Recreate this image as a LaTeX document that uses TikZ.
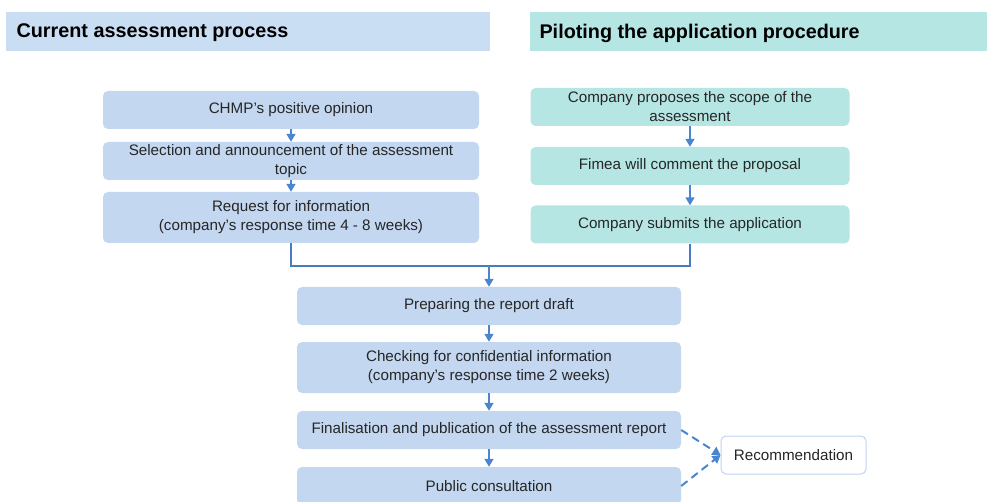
\documentclass[tikz,border=0pt]{standalone}
\usepackage{fontspec}
\setmainfont{Liberation Sans}
\usetikzlibrary{arrows.meta,positioning}
\definecolor{headblue}{RGB}{201,222,242}
\definecolor{headteal}{RGB}{182,230,227}
\definecolor{boxblue}{RGB}{195,215,240}
\definecolor{boxteal}{RGB}{182,230,227}
\definecolor{arrblue}{RGB}{74,134,208}
\definecolor{lineblue}{RGB}{72,124,190}
\definecolor{recborder}{RGB}{190,212,240}
\tikzset{
  procbox/.style={rounded corners=5pt,fill=boxblue,align=center,inner sep=0pt,
    font=\fontsize{15.2}{19}\selectfont,text=black!85},
  tealbox/.style={procbox,fill=boxteal},
  flow/.style={arrblue,line width=1.5pt,-{Triangle[width=9pt,length=8pt]}},
  recflow/.style={flow,line width=2pt,dash pattern=on 8pt off 5pt},
}
\begin{document}
\begin{tikzpicture}[x=1pt,y=-1pt]
\useasboundingbox (0,0) rectangle (987,502);
\clip (0,0) rectangle (987,502);
\fill[headblue] (6,12) rectangle (490,51);
\fill[headteal] (530,12) rectangle (987,51);
\node[anchor=west,font=\fontsize{19.8}{23}\bfseries\selectfont] (curhead) at (13,33) {Current assessment process};
\node[anchor=west,font=\fontsize{19.8}{23}\bfseries\selectfont] (pilothead) at (536,33) {Piloting the application procedure};
\node[procbox,minimum width=376pt,minimum height=38pt] (chmp) at (291,110) {CHMP’s positive opinion};
\node[procbox,minimum width=376pt,minimum height=38pt] (select) at (291,161) {Selection and announcement of the assessment\\topic};
\node[procbox,minimum width=376pt,minimum height=51pt] (request) at (291,217.5) {Request for information\\(company’s response time 4 - 8 weeks)};
\node[tealbox,minimum width=319pt,minimum height=38pt] (propose) at (690,107) {Company proposes the scope of the\\assessment};
\node[tealbox,minimum width=319pt,minimum height=38pt] (comment) at (690,166) {Fimea will comment the proposal};
\node[tealbox,minimum width=319pt,minimum height=38pt] (submit) at (690,224.5) {Company submits the application};
\node[procbox,minimum width=384pt,minimum height=38pt] (draft) at (489,306) {Preparing the report draft};
\node[procbox,minimum width=384pt,minimum height=51pt] (confid) at (489,367.5) {Checking for confidential information\\(company’s response time 2 weeks)};
\node[procbox,minimum width=384pt,minimum height=38pt] (final) at (489,430) {Finalisation and publication of the assessment report};
\node[procbox,minimum width=384pt,minimum height=38pt] (consult) at (489,486) {Public consultation};
\node[procbox,fill=white,draw=recborder,line width=1pt,minimum width=145pt,minimum height=38pt] (recom) at (793.5,455) {Recommendation};
\coordinate (merge) at (489,266);
\draw[flow] (chmp) -- (select);
\draw[flow] (select) -- (request);
\draw[flow] (propose) -- (comment);
\draw[flow] (comment) -- (submit);
\draw[lineblue,line width=1.2pt] (request.south) |- (merge) -| (submit.south);
\draw[flow] (merge) -- (draft);
\draw[flow] (draft) -- (confid);
\draw[flow] (confid) -- (final);
\draw[flow] (final) -- (consult);
\draw[recflow] (final.east) -- (recom.west);
\draw[recflow] (consult.east) -- (recom.west);
\end{tikzpicture}
\end{document}
